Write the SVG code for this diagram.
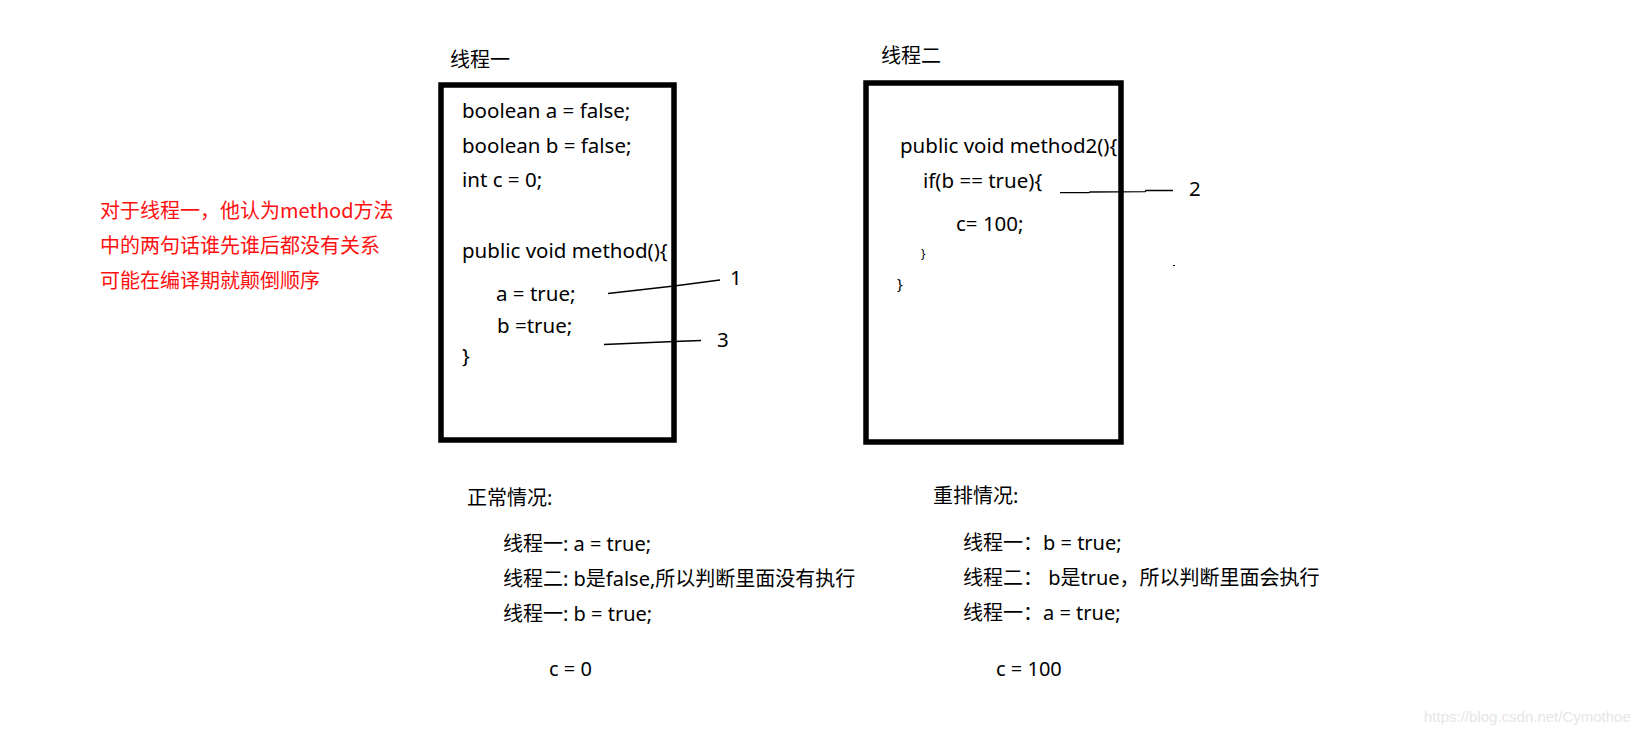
<svg xmlns="http://www.w3.org/2000/svg" width="1652" height="737" viewBox="0 0 1652 737">
<style>
  .t { font-family: "Noto Sans", "Noto Sans CJK SC", sans-serif; font-size: 20px; fill: #000; }
  .code { font-family: "Noto Sans", "Noto Sans CJK SC", sans-serif; font-size: 20.5px; fill: #000; }
  .red { font-family: "Noto Sans CJK SC", "Noto Sans", sans-serif; font-size: 20px; fill: #ff1010; }
  .box { fill: #fff; stroke: #000; stroke-width: 5.5; }
  .conn { stroke: #000; stroke-width: 1.3; fill: none; }
  .wm { font-family: "Liberation Sans", Arial, sans-serif; font-size: 15px; fill: #e6e6e6; }
</style>
<rect width="1652" height="737" fill="#fff"/>

<g id="note">
  <text class="red" x="100" y="218">对于线程一，他认为method方法</text>
  <text class="red" x="100" y="253">中的两句话谁先谁后都没有关系</text>
  <text class="red" x="100" y="288">可能在编译期就颠倒顺序</text>
</g>

<g id="thread1">
  <text class="t" x="450" y="67">线程一</text>
  <rect class="box" x="441" y="85" width="233" height="355"/>
  <text class="code" x="462" y="118">boolean a = false;</text>
  <text class="code" x="462" y="153">boolean b = false;</text>
  <text class="code" x="462" y="187">int c = 0;</text>
  <text class="code" x="462" y="258">public void method(){</text>
  <text class="code" x="496" y="301">a = true;</text>
  <text class="code" x="497" y="333">b =true;</text>
  <text class="code" x="462" y="363">}</text>
</g>

<g id="thread2">
  <text class="t" x="881" y="63">线程二</text>
  <rect class="box" x="866" y="83" width="255" height="359"/>
  <text class="code" x="900" y="153">public void method2(){</text>
  <text class="code" x="923" y="188">if(b == true){</text>
  <text class="code" x="956" y="231">c= 100;</text>
  <text class="code" x="921" y="258" style="font-size:12px">}</text>
  <text class="code" x="897" y="289" style="font-size:15px">}</text>
</g>

<g id="connectors">
  <polyline class="conn" points="608,293.5 674,286 720,280"/>
  <polyline class="conn" points="604,344.5 674,341.5 701,340.5"/>
  <polyline class="conn" points="1060,192.7 1089,192.7 1090,192 1145,191.7 1146,190.5 1173,190.5"/>
  <rect x="1173" y="265" width="2" height="1" fill="#000"/>
</g>

<g id="labels">
  <text class="code" x="730" y="285">1</text>
  <text class="code" x="717" y="347">3</text>
  <text class="code" x="1189" y="196">2</text>
</g>

<g id="normal">
  <text class="t" x="467" y="505">正常情况:</text>
  <text class="t" x="503" y="551">线程一: a = true;</text>
  <text class="t" x="503" y="586">线程二: b是false,所以判断里面没有执行</text>
  <text class="t" x="503" y="621">线程一: b = true;</text>
  <text class="t" x="549" y="676">c = 0</text>
</g>

<g id="reorder">
  <text class="t" x="933" y="503">重排情况:</text>
  <text class="t" x="963" y="550">线程一：b = true;</text>
  <text class="t" x="963" y="585">线程二：  b是true，所以判断里面会执行</text>
  <text class="t" x="963" y="620">线程一：a = true;</text>
  <text class="t" x="996" y="676">c = 100</text>
</g>

<text class="wm" x="1424" y="722">https://blog.csdn.net/Cymothoe</text>
</svg>
